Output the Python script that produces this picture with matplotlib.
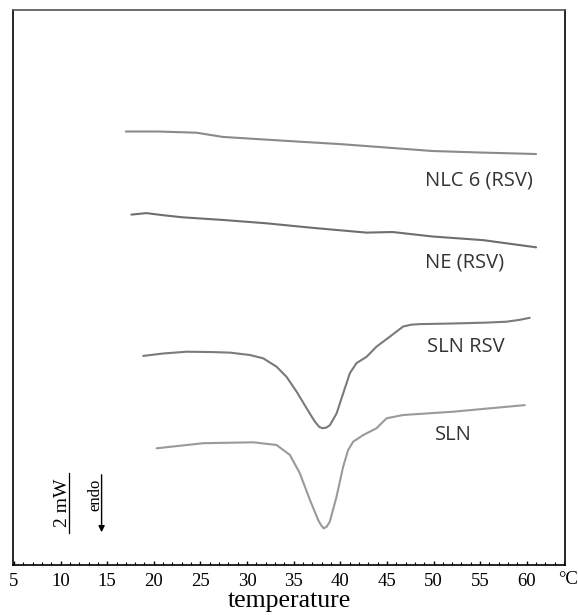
import matplotlib.pyplot as plt
from matplotlib.ticker import MultipleLocator

# DSC thermograms: temperature (°C) and heat flow (mW, offset per curve)
nlc_t = [17.0, 20.5, 24.6, 26.0, 27.4, 31.0, 35.7, 40.0, 43.9, 49.9, 55.0, 61.0]
nlc_q = [14.45, 14.45, 14.41, 14.34, 14.27, 14.20, 14.11, 14.03, 13.94, 13.80, 13.75, 13.70]

ne_t = [17.6, 19.2, 21.0, 23.1, 27.5, 32.1, 37.0, 42.8, 45.6, 49.9, 55.3, 61.0]
ne_q = [11.68, 11.73, 11.66, 11.59, 11.50, 11.39, 11.24, 11.08, 11.10, 10.95, 10.83, 10.59]

sln_rsv_t = [18.86, 21.0, 23.52, 26.0, 28.16, 30.30, 31.73, 33.17, 34.24, 35.31, 36.38, 37.27,
             37.75, 38.10, 38.50, 38.88, 39.60, 40.31, 41.02, 41.74, 42.82, 43.89, 45.31,
             46.74, 47.6, 48.53, 52.0, 55.68, 57.82, 59.2, 60.32]
sln_rsv_q = [6.97, 7.05, 7.11, 7.10, 7.08, 7.00, 6.89, 6.61, 6.27, 5.78, 5.23, 4.78,
             4.60, 4.56, 4.58, 4.66, 5.05, 5.72, 6.39, 6.73, 6.94, 7.28, 7.61,
             7.95, 8.01, 8.03, 8.05, 8.08, 8.11, 8.17, 8.24]

sln_t = [20.30, 25.30, 30.66, 33.17, 34.59, 35.66, 36.74, 37.63, 37.95, 38.24, 38.55, 38.88,
         39.60, 40.31, 40.84, 41.38, 42.45, 43.89, 44.96, 46.74, 52.10, 59.79]
sln_q = [3.89, 4.06, 4.09, 4.00, 3.67, 3.06, 2.17, 1.50, 1.32, 1.22, 1.28, 1.45,
         2.28, 3.28, 3.83, 4.11, 4.33, 4.56, 4.89, 5.00, 5.11, 5.33]

curve_names = ["NLC 6 (RSV)", "NE (RSV)", "SLN RSV", "SLN"]
curve_colors = ["#8a8a8a", "#6e6e6e", "#7a7a7a", "#9a9a9a"]
label_pos = [(49.07, 12.83), (49.07, 10.07), (49.28, 7.27), (50.1, 4.33)]

xticks = list(range(5, 65, 5))

fig = plt.figure(figsize=(5.78, 6.15), dpi=100)
ax = fig.add_axes([0.0225, 0.0813, 0.955, 0.9024])

curves = [(nlc_t, nlc_q), (ne_t, ne_q), (sln_rsv_t, sln_rsv_q), (sln_t, sln_q)]
for (t, q), c in zip(curves, curve_colors):
    ax.plot(t, q, color=c, lw=1.5, solid_capstyle="round", solid_joinstyle="round")

for name, (x, y) in zip(curve_names, label_pos):
    ax.text(x, y, name, fontsize=14.5, family="Open Sans", color="#333333",
            ha="left", va="center")

# scale bar and endo arrow
ax.plot([10.9, 10.9], [1.07, 3.07], color="black", lw=0.9)
ax.text(10.2, 2.07, "2 mW", rotation=90, family="Liberation Serif", fontsize=14,
        ha="center", va="center")
ax.annotate("", xy=(14.4, 1.0), xytext=(14.4, 3.1),
            arrowprops=dict(arrowstyle="-|>", color="black", lw=1.0, mutation_scale=9))
ax.text(13.7, 2.35, "endo", rotation=90, family="Liberation Serif", fontsize=12,
        ha="center", va="center")

ax.set_xlim(4.9, 64.1)
ax.set_ylim(0, 18.5)
ax.set_xticks(xticks)
ax.set_xticklabels([str(v) for v in xticks], family="Liberation Serif", fontsize=13.5)
ax.xaxis.set_minor_locator(MultipleLocator(1))
ax.tick_params(axis="x", which="major", direction="in", length=3, width=1, pad=6)
ax.tick_params(axis="x", which="minor", direction="in", length=2, width=0.8)
ax.set_yticks([])
ax.text(1.005, -0.027, "°C", transform=ax.transAxes, family="Liberation Serif",
        fontsize=13.5, ha="center", va="center")
ax.set_xlabel("temperature", family="Liberation Serif", fontsize=18.5, labelpad=0)

for s in ax.spines.values():
    s.set_linewidth(1.2)
ax.spines["top"].set_color("#555555")

fig.savefig("out.png", dpi=100)
